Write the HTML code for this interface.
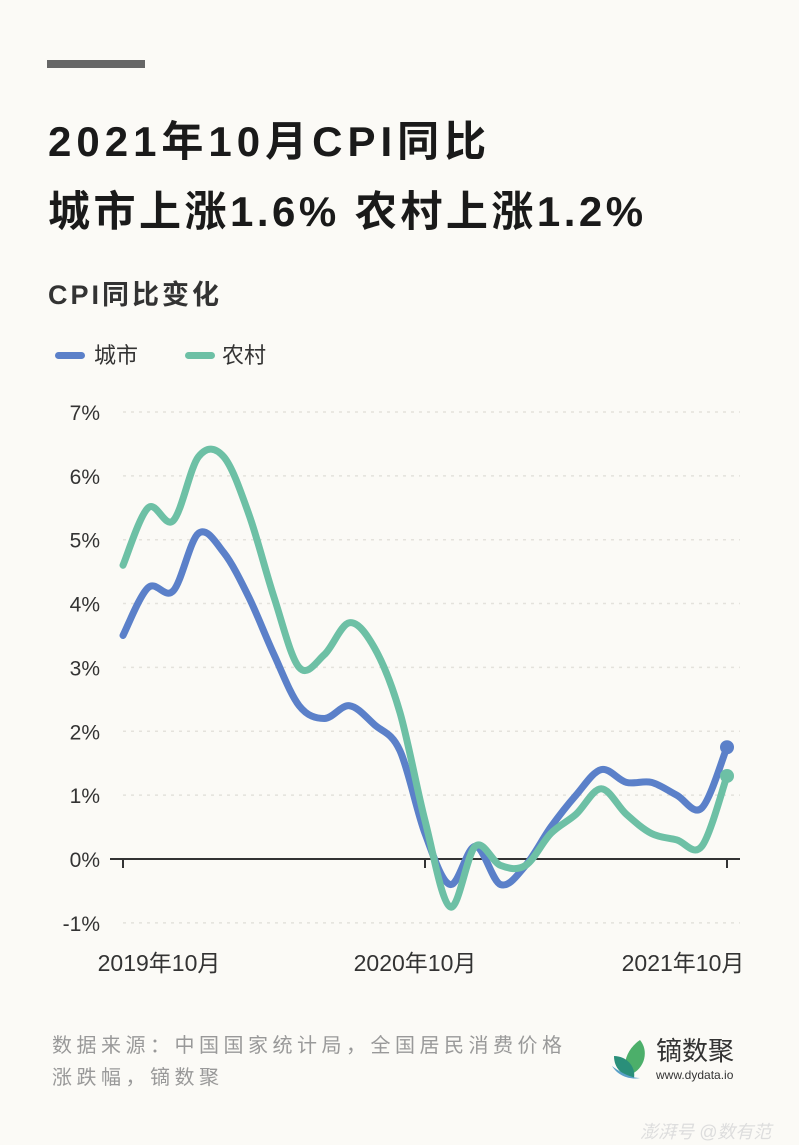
<!DOCTYPE html>
<html><head><meta charset="utf-8"><style>
html,body{margin:0;padding:0;background:#fbfaf6;}
body{width:799px;height:1145px;position:relative;overflow:hidden;font-family:"Liberation Sans","Noto Sans CJK SC",sans-serif;color:#1a1a1a;}
.t{position:absolute;white-space:nowrap;}
</style></head><body>
<div style="position:absolute;left:47px;top:60px;width:98px;height:8px;background:#666"></div>
<div class="t" style="left:48px;top:116px;font-size:42px;font-weight:bold;line-height:52px;letter-spacing:5px;">2021年10月CPI同比</div>
<div class="t" style="left:48px;top:186px;font-size:42px;font-weight:bold;line-height:52px;letter-spacing:3.5px;">城市上涨1.6% 农村上涨1.2%</div>
<div class="t" style="left:48px;top:278px;font-size:27px;font-weight:bold;color:#333;line-height:34px;letter-spacing:3px;">CPI同比变化</div>
<div style="position:absolute;left:55px;top:352px;width:30px;height:7px;border-radius:4px;background:#5b80c9"></div>
<div class="t" style="left:94px;top:342px;font-size:22px;color:#333;line-height:28px;">城市</div>
<div style="position:absolute;left:185px;top:352px;width:30px;height:7px;border-radius:4px;background:#6dc0a5"></div>
<div class="t" style="left:222px;top:342px;font-size:22px;color:#333;line-height:28px;">农村</div>
<svg width="799" height="1145" style="position:absolute;left:0;top:0" id="s">
<g font-family="Liberation Sans, Noto Sans CJK SC, sans-serif" font-size="21" fill="#333" id="lab"></g>
</svg>
<div class="t" style="left:52px;top:1030px;font-size:20px;color:#999;line-height:32px;letter-spacing:4.5px;">数据来源：中国国家统计局，全国居民消费价格<br>涨跌幅，镝数聚</div>
<svg width="40" height="42" style="position:absolute;left:610px;top:1038px">
<path d="M30 2 C40 14 34 34 16 38 C12 24 18 10 30 2Z" fill="#4caf6a"/>
<path d="M4 18 C16 18 26 28 24 40 C12 38 4 30 4 18Z" fill="#2a8f7a"/>
<path d="M2 28 C10 34 20 40 30 40 C20 42 8 38 2 28Z" fill="#5aa0c8"/>
</svg>
<div class="t" style="left:656px;top:1036px;font-size:26px;color:#333;line-height:30px;">镝数聚</div>
<div class="t" style="left:656px;top:1068px;font-size:12px;color:#333;">www.dydata.io</div>
<div class="t" style="left:640px;top:1118px;font-size:18px;color:#ddd;font-style:italic;">澎湃号 @数有范</div>
<script>
var s=document.getElementById('s'),lab=document.getElementById('lab'),NS='http://www.w3.org/2000/svg';
function el(t,a,p){var e=document.createElementNS(NS,t);for(var k in a)e.setAttribute(k,a[k]);(p||s).appendChild(e);return e;}
function Y(v){return 859-v*63.86;}
function X(i){return 123+i*25.167;}
for(var v=-1;v<=7;v++){
 if(v!=0)el('line',{x1:123,x2:740,y1:Y(v),y2:Y(v),stroke:'#e4e2dc','stroke-width':1.5,'stroke-dasharray':'3 5'});
 var t=el('text',{x:100,y:Y(v)+8,'text-anchor':'end'},lab);t.textContent=v+'%';
}
el('line',{x1:110,x2:740,y1:859,y2:859,stroke:'#333','stroke-width':2});
[0,12,24].forEach(function(i){el('line',{x1:X(i),x2:X(i),y1:859,y2:868,stroke:'#333','stroke-width':2});});
[[159,'2019年10月'],[415,'2020年10月'],[683,'2021年10月']].forEach(function(a){var t=el('text',{x:a[0],y:971,'text-anchor':'middle','font-size':23},lab);t.textContent=a[1];});
var blue=[3.5,4.25,4.2,5.1,4.8,4.1,3.2,2.4,2.2,2.4,2.1,1.7,0.4,-0.4,0.2,-0.4,-0.1,0.5,1.0,1.4,1.2,1.2,1.0,0.8,1.75];
var green=[4.6,5.5,5.3,6.3,6.3,5.4,4.1,3.0,3.2,3.7,3.3,2.3,0.6,-0.75,0.2,-0.1,-0.1,0.4,0.7,1.1,0.7,0.4,0.3,0.2,1.3];
function path(d){var p=d.map(function(v,i){return [X(i),Y(v)];});var s='M'+p[0][0]+' '+p[0][1];
 for(var i=0;i<p.length-1;i++){var p0=p[i-1]||p[i],p1=p[i],p2=p[i+1],p3=p[i+2]||p2;
  s+=' C'+(p1[0]+(p2[0]-p0[0])/6)+' '+(p1[1]+(p2[1]-p0[1])/6)+' '+(p2[0]-(p3[0]-p1[0])/6)+' '+(p2[1]-(p3[1]-p1[1])/6)+' '+p2[0]+' '+p2[1];}
 return s;}
el('path',{d:path(blue),fill:'none',stroke:'#5b80c9','stroke-width':7,'stroke-linecap':'round','stroke-linejoin':'round'});
el('path',{d:path(green),fill:'none',stroke:'#6dc0a5','stroke-width':7,'stroke-linecap':'round','stroke-linejoin':'round'});
el('circle',{cx:X(24),cy:Y(1.75),r:7,fill:'#5b80c9'});
el('circle',{cx:X(24),cy:Y(1.3),r:7,fill:'#6dc0a5'});
</script>
</body></html>
